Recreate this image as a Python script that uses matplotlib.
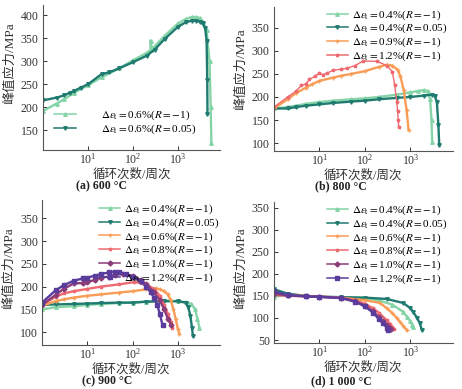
import matplotlib
matplotlib.use("Agg")
import matplotlib.pyplot as plt
from matplotlib.ticker import LogFormatterMathtext, NullLocator

plt.rcParams['font.family'] = ['Liberation Serif', 'Noto Sans CJK SC']
plt.rcParams['mathtext.fontset'] = 'stix'

# ---- (a) 600 C ----
a_n_r1 = [1, 2, 3, 5, 10, 20, 50, 100, 200, 245, 245, 260, 300, 500, 1000, 1500, 2000, 2500, 3000, 3600, 4300, 5000, 5300, 5500]
a_s_r1 = [192, 208, 218, 232, 248, 265, 285, 302, 318, 325, 345, 328, 332, 355, 382, 392, 396, 396, 394, 385, 367, 300, 200, 122]
a_n_r005 = [1, 2, 3, 4, 5, 7, 10, 20, 30, 50, 100, 200, 300, 500, 1000, 1500, 2000, 2500, 3000, 3500, 4000, 4300, 4450, 4500]
a_s_r005 = [215, 221, 226, 232, 236, 243, 250, 272, 276, 285, 298, 312, 325, 348, 375, 385, 388, 388, 386, 382, 372, 345, 260, 185]

# ---- (b) 800 C ----
b_n_04_r1 = [1, 2, 3, 5, 10, 20, 50, 100, 200, 500, 1000, 1500, 2000, 2400, 2700, 2900, 3000]
b_s_04_r1 = [175, 178, 181, 185, 189, 192, 195, 197, 200, 205, 210, 213, 215, 212, 195, 150, 102]
b_n_04_r005 = [1, 2, 3, 5, 10, 20, 50, 100, 200, 500, 1000, 2000, 3000, 3400, 3800, 4100, 4300]
b_s_04_r005 = [175, 175, 178, 181, 184, 187, 190, 192, 195, 198, 200, 203, 205, 203, 190, 140, 95]
b_n_09 = [1, 2, 3, 5, 7, 10, 20, 30, 50, 100, 200, 300, 400, 520, 600, 710, 820, 910]
b_s_09 = [175, 195, 208, 220, 228, 235, 242, 246, 250, 256, 265, 270, 268, 259, 245, 215, 172, 128]
b_n_12 = [1, 2, 3, 4, 5, 6, 8, 10, 12, 15, 20, 30, 40, 60, 92, 187, 300, 400, 450, 500, 520, 540, 550]
b_s_12 = [178, 200, 212, 225, 228, 238, 245, 252, 248, 252, 258, 260, 262, 268, 278, 277, 268, 255, 225, 190, 170, 150, 135]

# ---- (c) 900 C ----
c_n_04_r1 = [1, 2, 5, 10, 20, 50, 100, 200, 500, 1000, 1500, 2000, 2400, 2700, 3000]
c_s_04_r1 = [150, 155, 157, 160, 162, 164, 165, 167, 170, 168, 166, 162, 150, 130, 110]
c_n_04_r005 = [1, 2, 5, 10, 20, 50, 100, 200, 500, 1000, 1500, 1700, 1900, 2050, 2150]
c_s_04_r005 = [160, 161, 162, 163, 164, 165, 165, 167, 168, 168, 165, 155, 135, 110, 92]
c_n_06 = [1, 2, 3, 5, 10, 20, 50, 100, 200, 330, 400, 500, 600, 700, 800, 900, 1000, 1080]
c_s_06 = [158, 168, 172, 176, 180, 183, 187, 190, 194, 196, 194, 190, 183, 170, 150, 128, 108, 97]
c_n_08 = [1, 2, 3, 5, 10, 20, 50, 110, 150, 200, 300, 400, 500, 600, 700, 760]
c_s_08 = [160, 178, 185, 190, 195, 200, 205, 210, 208, 205, 195, 180, 160, 140, 122, 110]
c_n_10 = [1, 2, 3, 5, 8, 10, 15, 20, 30, 40, 60, 100, 150, 200, 300, 400, 500, 600, 720]
c_s_10 = [160, 182, 195, 207, 208, 210, 215, 220, 222, 226, 228, 224, 215, 205, 188, 170, 150, 130, 115]
c_n_12 = [1, 2, 3, 5, 8, 10, 15, 20, 30, 40, 50, 70, 100, 150, 200, 250, 300, 350, 400, 460]
c_s_12 = [165, 192, 203, 213, 218, 220, 224, 228, 231, 233, 232, 228, 222, 212, 200, 188, 175, 160, 140, 115]

# ---- (d) 1000 C ----
d_n_04_r1 = [1, 2, 5, 10, 30, 100, 200, 400, 690, 850, 1000, 1100, 1150]
d_s_04_r1 = [148, 152, 150, 148, 147, 145, 140, 130, 114, 102, 92, 85, 80]
d_n_04_r005 = [1, 2, 5, 10, 30, 100, 300, 690, 1000, 1140, 1400, 1600, 1780]
d_s_04_r005 = [165, 155, 150, 148, 147, 146, 143, 134, 122, 114, 100, 88, 73]
d_n_06 = [1, 2, 5, 10, 30, 100, 215, 300, 400, 500, 600, 700, 830]
d_s_06 = [155, 152, 150, 148, 146, 140, 134, 122, 111, 100, 90, 82, 72]
d_n_08 = [1, 2, 5, 10, 30, 60, 100, 150, 200, 300, 350, 400, 440]
d_s_08 = [152, 150, 149, 148, 146, 140, 132, 122, 112, 95, 87, 80, 74]
d_n_10 = [1, 2, 5, 10, 30, 60, 100, 150, 200, 250, 300, 350, 370]
d_s_10 = [155, 151, 149, 148, 145, 138, 128, 115, 102, 92, 85, 78, 74]
d_n_12 = [1, 2, 5, 10, 30, 60, 100, 150, 200, 250, 300, 320]
d_s_12 = [160, 152, 149, 148, 145, 137, 126, 112, 98, 88, 78, 73]

GREEN = '#84d4a7'
TEAL = '#1f7b70'
ORANGE = '#f99c55'
RED = '#ee6a70'
MAROON = '#8c3c78'
PURPLE = '#5a3c9c'


def lab(strain, r):
    return r'$\Delta\varepsilon_{\mathrm{t}}=$' + strain + r'%($R=$' + r + ')'


def style_axes(ax, ylim, yticks, ylab_y):
    ax.set_xscale('log')
    ax.set_xlim(1, 8500)
    ax.set_ylim(*ylim)
    ax.set_yticks(yticks)
    ax.set_xticks([10, 100, 1000])
    ax.xaxis.set_major_formatter(LogFormatterMathtext())
    ax.xaxis.set_minor_locator(NullLocator())
    for s in ['top', 'right']:
        ax.spines[s].set_visible(False)
    for s in ['left', 'bottom']:
        ax.spines[s].set_color('#555555')
        ax.spines[s].set_linewidth(0.8)
    ax.tick_params(direction='in', length=3, width=0.7, labelsize=8.5, colors='#333333')
    ax.tick_params(axis='x', pad=1.5)
    ax.tick_params(axis='y', pad=3)
    ax.set_xlabel('循环次数/周次', fontsize=9, color='#333333', va='center')
    ax.set_ylabel('峰值应力/MPa', fontsize=9.5, color='#333333', va='center')
    h = ax.get_position().height * 389
    w = ax.get_position().width * 462
    ax.xaxis.set_label_coords(0.5, -24 / h)
    ax.yaxis.set_label_coords(-33 / w, ylab_y)


def curve(ax, n, s, color, marker, label, lw=1.7):
    ax.plot(n, s, color=color, marker=marker, markersize=2.5, lw=lw, label=label)


def thin(leg):
    for ln in leg.get_lines():
        ln.set_linewidth(1.1)
        ln.set_markersize(2.5)


def legend(ax, anchor):
    leg = ax.legend(loc='upper right', bbox_to_anchor=anchor, frameon=False, fontsize=8,
                    handlelength=1.9, handletextpad=0.35, labelspacing=0.02, borderpad=0)
    thin(leg)


fig = plt.figure(figsize=(4.62, 3.89), dpi=100)
ax_a = fig.add_axes([0.093, 0.614, 0.383, 0.373])
ax_b = fig.add_axes([0.593, 0.612, 0.387, 0.370])
ax_c = fig.add_axes([0.091, 0.113, 0.385, 0.373])
ax_d = fig.add_axes([0.593, 0.118, 0.387, 0.362])

# (a)
curve(ax_a, a_n_r1, a_s_r1, GREEN, '^', lab('0.6', r'$-$1'))
curve(ax_a, a_n_r005, a_s_r005, TEAL, 'v', lab('0.6', '0.05'))
style_axes(ax_a, (107, 422), [150, 200, 250, 300, 350, 400], 0.6)
leg_a = ax_a.legend(loc='lower right', bbox_to_anchor=(0.9, 0.06), frameon=False, fontsize=8,
                    handlelength=1.9, handletextpad=2.3, labelspacing=0.02, borderpad=0)
thin(leg_a)

# (b)
curve(ax_b, b_n_04_r1, b_s_04_r1, GREEN, '^', lab('0.4', r'$-$1'))
curve(ax_b, b_n_04_r005, b_s_04_r005, TEAL, 'v', lab('0.4', '0.05'))
curve(ax_b, b_n_09, b_s_09, ORANGE, '+', lab('0.9', r'$-$1'))
curve(ax_b, b_n_12, b_s_12, RED, '*', lab('1.2', r'$-$1'), lw=1.0)
style_axes(ax_b, (83, 395), [100, 150, 200, 250, 300, 350], 0.57)
legend(ax_b, (1.0, 1.03))

# (c)
curve(ax_c, c_n_04_r1, c_s_04_r1, GREEN, '^', lab('0.4', r'$-$1'))
curve(ax_c, c_n_04_r005, c_s_04_r005, TEAL, 'v', lab('0.4', '0.05'))
curve(ax_c, c_n_06, c_s_06, ORANGE, '+', lab('0.6', r'$-$1'))
curve(ax_c, c_n_08, c_s_08, RED, '*', lab('0.8', r'$-$1'))
curve(ax_c, c_n_10, c_s_10, MAROON, 'D', lab('1.0', r'$-$1'))
curve(ax_c, c_n_12, c_s_12, PURPLE, 's', lab('1.2', r'$-$1'))
style_axes(ax_c, (72, 390), [100, 150, 200, 250, 300, 350], 0.53)
legend(ax_c, (1.03, 1.02))

# (d)
curve(ax_d, d_n_04_r1, d_s_04_r1, GREEN, '^', lab('0.4', r'$-$1'))
curve(ax_d, d_n_04_r005, d_s_04_r005, TEAL, 'v', lab('0.4', '0.05'))
curve(ax_d, d_n_06, d_s_06, ORANGE, '+', lab('0.6', r'$-$1'))
curve(ax_d, d_n_08, d_s_08, RED, '*', lab('0.8', r'$-$1'))
curve(ax_d, d_n_10, d_s_10, MAROON, 'D', lab('1.0', r'$-$1'))
curve(ax_d, d_n_12, d_s_12, PURPLE, 's', lab('1.2', r'$-$1'))
style_axes(ax_d, (43, 362), [50, 100, 150, 200, 250, 300, 350], 0.53)
legend(ax_d, (1.0, 1.03))

# panel captions
cap = dict(fontsize=8.5, fontweight='bold', ha='center', va='center', color='#222222')
fig.text(102 / 462, 1 - 186 / 389, '(a) 600 °C', **cap)
fig.text(341 / 462, 1 - 186 / 389, '(b) 800 °C', **cap)
fig.text(107 / 462, 1 - 381 / 389, '(c) 900 °C', **cap)
fig.text(341 / 462, 1 - 381 / 389, '(d) 1 000 °C', **cap)

fig.savefig('out.png', dpi=100)
plt.close(fig)
